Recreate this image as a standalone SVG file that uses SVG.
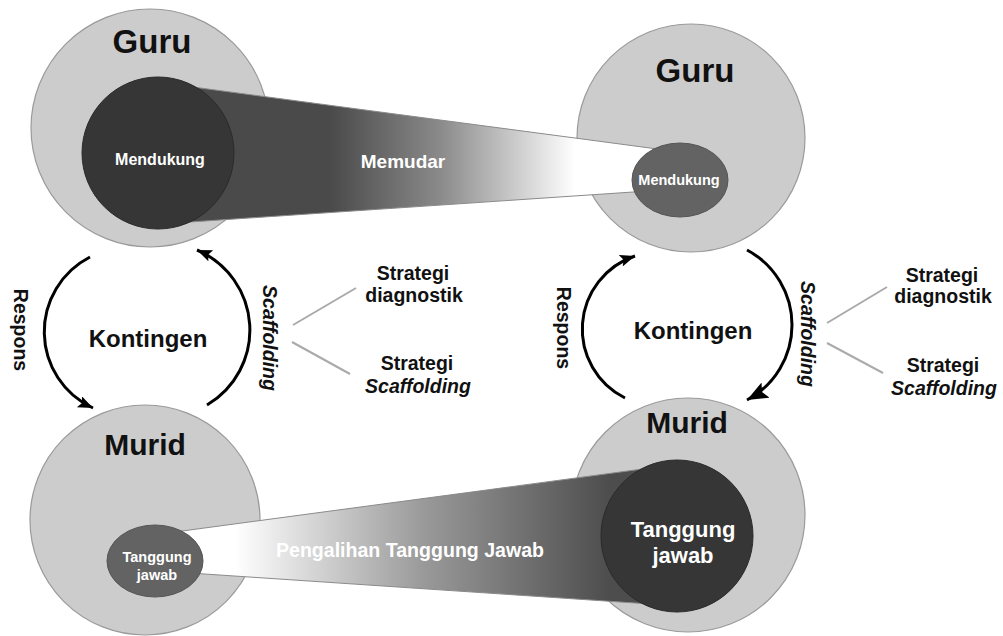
<svg xmlns="http://www.w3.org/2000/svg" width="1003" height="636" viewBox="0 0 1003 636">
<defs>
<linearGradient id="gTop" gradientUnits="userSpaceOnUse" x1="330" y1="0" x2="575" y2="0">
<stop offset="0" stop-color="#4a4a4a"/>
<stop offset="0.45" stop-color="#8a8a8a"/>
<stop offset="1" stop-color="#ffffff"/>
</linearGradient>
<linearGradient id="gBot" gradientUnits="userSpaceOnUse" x1="235" y1="0" x2="610" y2="0">
<stop offset="0" stop-color="#ffffff"/>
<stop offset="0.5" stop-color="#9a9a9a"/>
<stop offset="1" stop-color="#4d4d4d"/>
</linearGradient>
<marker id="ah" markerUnits="userSpaceOnUse" markerWidth="16" markerHeight="14" refX="15" refY="6" orient="auto">
<path d="M0,0 L15,6 L0,12 L3,6 Z" fill="#000"/>
</marker>
<marker id="ahBig" markerUnits="userSpaceOnUse" markerWidth="22" markerHeight="18" refX="21" refY="8.5" orient="auto">
<path d="M0,0 L21,8.5 L0,17 L4,8.5 Z" fill="#000"/>
</marker>
<style>
.outer{fill:#cccccc;stroke:#9a9a9a;stroke-width:1.2}
.dark{fill:#363636;stroke:#2a2a2a;stroke-width:1}
.mid{fill:#636363;stroke:#555;stroke-width:1}
.band{stroke:#8a8a8a;stroke-width:1}
.big{font-family:"Liberation Sans",Arial,sans-serif;font-weight:bold;fill:#111;text-anchor:middle}
.lbl{font-family:"Liberation Sans",Arial,sans-serif;font-weight:bold;fill:#111;font-size:19.5px;text-anchor:middle}
.wt{font-family:"Liberation Sans",Arial,sans-serif;font-weight:bold;fill:#ffffff;text-anchor:middle}
.arc{fill:none;stroke:#000;stroke-width:3}
.tick{stroke:#aaaaaa;stroke-width:2}
</style>
</defs>

<g id="guru-left">
<circle class="outer" cx="150" cy="128" r="119"/>
<text class="big" x="152" y="53" font-size="33">Guru</text>
</g>
<g id="guru-right">
<circle class="outer" cx="691" cy="138" r="114"/>
<text class="big" x="695" y="82" font-size="33">Guru</text>
</g>
<g id="murid-left">
<circle class="outer" cx="145" cy="520" r="115"/>
<text class="big" x="145" y="455" font-size="30">Murid</text>
</g>
<g id="murid-right">
<circle class="outer" cx="688" cy="515" r="117"/>
<text class="big" x="687" y="433" font-size="30">Murid</text>
</g>

<g id="band-memudar">
<polygon class="band" fill="url(#gTop)" points="180,85.3 670,150.7 670,189.5 180,222.7"/>
<text class="wt" x="403" y="168" font-size="19" fill="#f2f2f2">Memudar</text>
</g>
<g id="band-pengalihan">
<polygon class="band" fill="url(#gBot)" points="160,534 650,468 650,604 160,571"/>
<text class="wt" x="410" y="557" font-size="19.5" textLength="268" lengthAdjust="spacingAndGlyphs">Pengalihan Tanggung Jawab</text>
</g>

<g id="mendukung-left">
<circle class="dark" cx="158" cy="153" r="76"/>
<text class="wt" x="160" y="165" font-size="16">Mendukung</text>
</g>
<g id="mendukung-right">
<ellipse class="mid" cx="680" cy="180" rx="48" ry="37"/>
<text class="wt" x="679" y="185" font-size="14.5">Mendukung</text>
</g>
<g id="tanggung-left">
<ellipse class="mid" cx="155" cy="561" rx="48" ry="36"/>
<text class="wt" x="157" y="562" font-size="14.5">Tanggung</text>
<text class="wt" x="157" y="580" font-size="14.5">jawab</text>
</g>
<g id="tanggung-right">
<circle class="dark" cx="677" cy="536" r="76"/>
<text class="wt" x="683" y="537" font-size="22">Tanggung</text>
<text class="wt" x="683" y="563" font-size="22">jawab</text>
</g>

<g id="connectors">
<path class="arc" d="M90,257 A84,84 0 0 0 93,408" marker-end="url(#ah)"/>
<path class="arc" d="M207,405 A87,87 0 0 0 197,250" marker-end="url(#ah)"/>
<path class="arc" d="M625,398 A77,77 0 0 1 635,256" marker-end="url(#ah)"/>
<path class="arc" d="M747,250 A85,85 0 0 1 747,400" marker-end="url(#ahBig)"/>
<line class="tick" x1="293" y1="325" x2="356" y2="288"/>
<line class="tick" x1="292" y1="342" x2="350" y2="374"/>
<line class="tick" x1="827" y1="323" x2="887" y2="287"/>
<line class="tick" x1="827" y1="343" x2="883" y2="373"/>
</g>

<g id="labels-left">
<text class="big" x="148" y="347" font-size="24" fill="#222">Kontingen</text>
<text class="lbl" transform="translate(21,330) rotate(90)" x="0" y="7">Respons</text>
<text class="lbl" transform="translate(270,338) rotate(90)" x="0" y="7" font-style="italic">Scaffolding</text>
<text class="lbl" x="413" y="280">Strategi</text>
<text class="lbl" x="414" y="302">diagnostik</text>
<text class="lbl" x="417" y="370">Strategi</text>
<text class="lbl" x="418" y="393" font-style="italic">Scaffolding</text>
</g>
<g id="labels-right">
<text class="big" x="693" y="339" font-size="24" fill="#222">Kontingen</text>
<text class="lbl" transform="translate(564,328) rotate(90)" x="0" y="7">Respons</text>
<text class="lbl" transform="translate(808,334) rotate(90)" x="0" y="7" font-style="italic">Scaffolding</text>
<text class="lbl" x="942" y="282">Strategi</text>
<text class="lbl" x="943" y="303">diagnostik</text>
<text class="lbl" x="943" y="372">Strategi</text>
<text class="lbl" x="944" y="395" font-style="italic">Scaffolding</text>
</g>
</svg>
